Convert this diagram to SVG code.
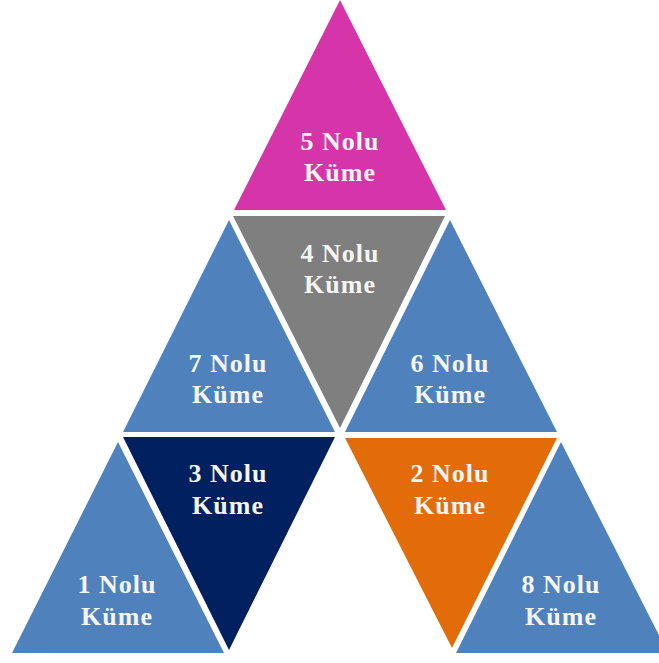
<svg xmlns="http://www.w3.org/2000/svg" width="659" height="663" viewBox="0 0 659 663">
  <style>
    .tri { stroke: none; }
    .blue { fill: #4f81bd; }
    .pink { fill: #d635a9; }
    .gray { fill: #7f7f7f; }
    .navy { fill: #002060; }
    .orange { fill: #e36c0a; }
    .lbl { font-family: "Liberation Serif", "Times New Roman", serif; font-weight: bold; font-size: 26px; letter-spacing: 1px; fill: #f4f4f4; text-anchor: middle; }
  </style>
  <rect width="659" height="663" fill="#ffffff"/>

  <!-- top row -->
  <g id="kume5">
    <polygon class="tri pink" points="340,0 234,210 446,210"/>
    <text class="lbl" x="340" y="150">5 Nolu</text>
    <text class="lbl" x="340" y="181">Küme</text>
  </g>

  <!-- middle row -->
  <g id="kume4">
    <polygon class="tri gray" points="233,216 445,216 340,428"/>
    <text class="lbl" x="340" y="262">4 Nolu</text>
    <text class="lbl" x="340" y="293">Küme</text>
  </g>
  <g id="kume7">
    <polygon class="tri blue" points="229,220 123,432 335,432"/>
    <text class="lbl" x="228" y="372">7 Nolu</text>
    <text class="lbl" x="228" y="403">Küme</text>
  </g>
  <g id="kume6">
    <polygon class="tri blue" points="450,220 345,432 557,432"/>
    <text class="lbl" x="450" y="372">6 Nolu</text>
    <text class="lbl" x="450" y="403">Küme</text>
  </g>

  <!-- bottom row -->
  <g id="kume3">
    <polygon class="tri navy" points="123,437 335,437 229,650"/>
    <text class="lbl" x="228" y="482">3 Nolu</text>
    <text class="lbl" x="228" y="514">Küme</text>
  </g>
  <g id="kume1">
    <polygon class="tri blue" points="118,442 12,653 224,653"/>
    <text class="lbl" x="117" y="593">1 Nolu</text>
    <text class="lbl" x="117" y="625">Küme</text>
  </g>
  <g id="kume2">
    <polygon class="tri orange" points="345,438 557,438 452,648"/>
    <text class="lbl" x="450" y="482">2 Nolu</text>
    <text class="lbl" x="450" y="514">Küme</text>
  </g>
  <g id="kume8">
    <polygon class="tri blue" points="561,442 456,653 668,653"/>
    <text class="lbl" x="561" y="593">8 Nolu</text>
    <text class="lbl" x="561" y="625">Küme</text>
  </g>

  <g id="connectors"/>
</svg>
